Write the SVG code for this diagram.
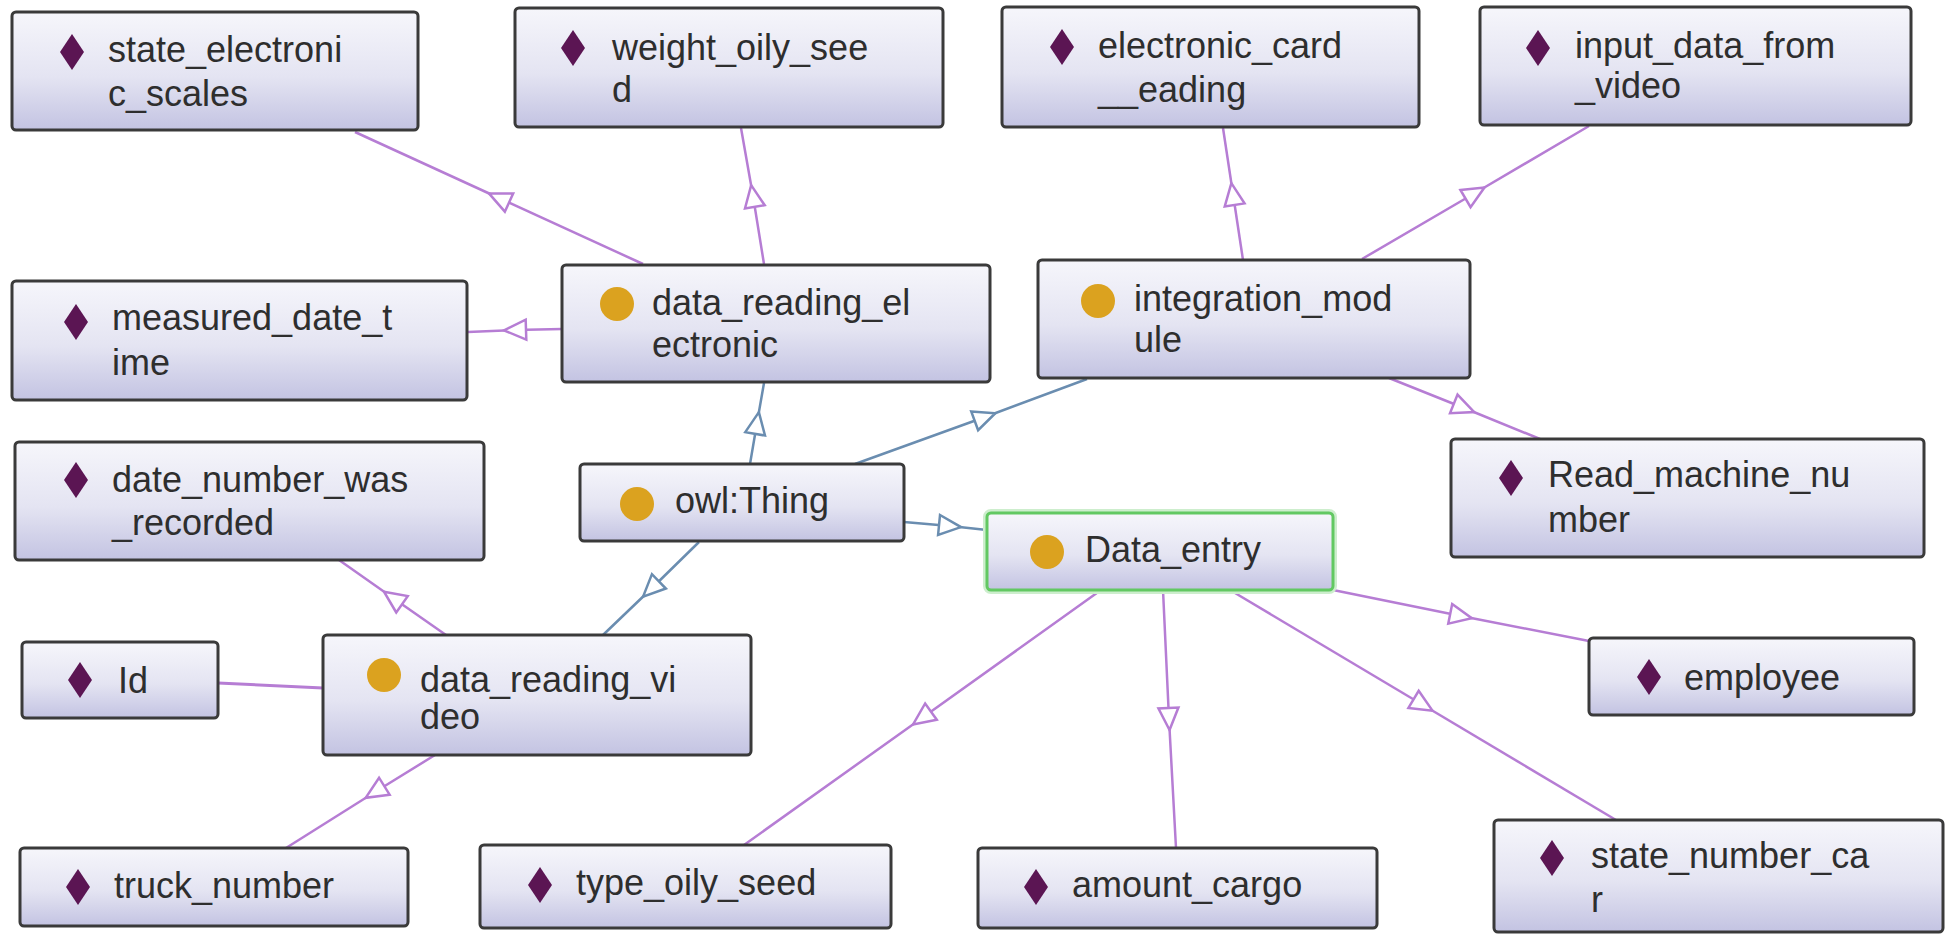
<svg xmlns="http://www.w3.org/2000/svg" width="1948" height="934" viewBox="0 0 1948 934">
<style>
.box{fill:url(#g);stroke:#3a3a3a;stroke-width:3}
.lbl{font-family:"Liberation Sans",Arial,sans-serif;font-size:36px;fill:#2e2e2e}
.dia{fill:#5b1553}
.cls{fill:#dba21f}
.ep{fill:none;stroke:#b67dd4;stroke-width:2.5;marker-mid:url(#aP)}
.eb{fill:none;stroke:#6a8db0;stroke-width:2.5;marker-mid:url(#aB)}
.en{fill:none;stroke:#b67dd4;stroke-width:3}
</style>
<defs>
<linearGradient id="g" x1="0" y1="0" x2="0" y2="1">
<stop offset="0" stop-color="#f6f6fb"/>
<stop offset="0.55" stop-color="#e4e4f2"/>
<stop offset="1" stop-color="#c3c3e2"/>
</linearGradient>
<marker id="aP" viewBox="-15 -15 30 30" markerWidth="30" markerHeight="30" refX="0" refY="0" orient="auto" markerUnits="userSpaceOnUse">
<path d="M-11,-10 L11,0 L-11,10 Z" fill="#fff" stroke="#b67dd4" stroke-width="2.5"/>
</marker>
<marker id="aB" viewBox="-15 -15 30 30" markerWidth="30" markerHeight="30" refX="0" refY="0" orient="auto" markerUnits="userSpaceOnUse">
<path d="M-11,-10 L11,0 L-11,10 Z" fill="#fff" stroke="#6a8db0" stroke-width="2.5"/>
</marker>
</defs>
<rect width="1948" height="934" fill="#fff"/>
<g id="connectors">
<path class="ep" d="M643,264 L499,198 L355,132"/>
<path class="ep" d="M764,264 L753,196 L741,128"/>
<path class="ep" d="M562,329 L515,330 L468,332"/>
<path class="ep" d="M1243,260 L1233,194 L1223,128"/>
<path class="ep" d="M1362,259 L1475,193 L1589,126"/>
<path class="ep" d="M1389,378 L1464,408 L1540,439"/>
<path class="eb" d="M750,464 L757,423 L764,383"/>
<path class="eb" d="M855,464 L985,417 L1087,379"/>
<path class="eb" d="M904,522 L950,526 L987,530"/>
<path class="eb" d="M699,542 L651,589 L603,635"/>
<path class="ep" d="M446,635 L393,598 L339,560"/>
<path class="en" d="M218,683 L323,688"/>
<path class="ep" d="M435,755 L375,792 L286,848"/>
<path class="ep" d="M1101,590 L922,718 L744,845"/>
<path class="ep" d="M1163,590 L1169,719 L1176,848"/>
<path class="ep" d="M1333,590 L1461,616 L1589,641"/>
<path class="ep" d="M1230,590 L1423,705 L1616,820"/>
</g>
<g id="n_state">
<rect class="box" x="12" y="12" width="406" height="118" rx="4"/>
<path class="dia" d="M72,34 L84,52 L72,70 L60,52 Z"/>
<text class="lbl"><tspan x="108" y="62">state_electroni</tspan><tspan x="108" y="106">c_scales</tspan></text>
</g>
<g id="n_weight">
<rect class="box" x="515" y="8" width="428" height="119" rx="4"/>
<path class="dia" d="M573,30 L585,48 L573,66 L561,48 Z"/>
<text class="lbl"><tspan x="612" y="60">weight_oily_see</tspan><tspan x="612" y="102">d</tspan></text>
</g>
<g id="n_card">
<rect class="box" x="1002" y="7" width="417" height="120" rx="4"/>
<path class="dia" d="M1062,29 L1074,47 L1062,65 L1050,47 Z"/>
<text class="lbl"><tspan x="1098" y="58">electronic_card</tspan><tspan x="1098" y="102">__eading</tspan></text>
</g>
<g id="n_input">
<rect class="box" x="1480" y="7" width="431" height="118" rx="4"/>
<path class="dia" d="M1538,30 L1550,48 L1538,66 L1526,48 Z"/>
<text class="lbl"><tspan x="1575" y="58">input_data_from</tspan><tspan x="1575" y="98">_video</tspan></text>
</g>
<g id="n_measured">
<rect class="box" x="12" y="281" width="455" height="119" rx="4"/>
<path class="dia" d="M76,304 L88,322 L76,340 L64,322 Z"/>
<text class="lbl"><tspan x="112" y="330">measured_date_t</tspan><tspan x="112" y="375">ime</tspan></text>
</g>
<g id="n_datenum">
<rect class="box" x="15" y="442" width="469" height="118" rx="4"/>
<path class="dia" d="M76,462 L88,480 L76,498 L64,480 Z"/>
<text class="lbl"><tspan x="112" y="492">date_number_was</tspan><tspan x="112" y="535">_recorded</tspan></text>
</g>
<g id="n_read">
<rect class="box" x="1451" y="439" width="473" height="118" rx="4"/>
<path class="dia" d="M1511,460 L1523,478 L1511,496 L1499,478 Z"/>
<text class="lbl"><tspan x="1548" y="487">Read_machine_nu</tspan><tspan x="1548" y="532">mber</tspan></text>
</g>
<g id="n_id">
<rect class="box" x="22" y="642" width="196" height="76" rx="4"/>
<path class="dia" d="M80,662 L92,680 L80,698 L68,680 Z"/>
<text class="lbl" x="118" y="693">Id</text>
</g>
<g id="n_employee">
<rect class="box" x="1589" y="638" width="325" height="77" rx="4"/>
<path class="dia" d="M1649,659 L1661,677 L1649,695 L1637,677 Z"/>
<text class="lbl" x="1684" y="690">employee</text>
</g>
<g id="n_truck">
<rect class="box" x="20" y="848" width="388" height="78" rx="4"/>
<path class="dia" d="M78,869 L90,887 L78,905 L66,887 Z"/>
<text class="lbl" x="114" y="898">truck_number</text>
</g>
<g id="n_type">
<rect class="box" x="480" y="845" width="411" height="83" rx="4"/>
<path class="dia" d="M540,867 L552,885 L540,903 L528,885 Z"/>
<text class="lbl" x="576" y="895">type_oily_seed</text>
</g>
<g id="n_amount">
<rect class="box" x="978" y="848" width="399" height="80" rx="4"/>
<path class="dia" d="M1036,869 L1048,887 L1036,905 L1024,887 Z"/>
<text class="lbl" x="1072" y="897">amount_cargo</text>
</g>
<g id="n_statecar">
<rect class="box" x="1494" y="820" width="449" height="112" rx="4"/>
<path class="dia" d="M1552,840 L1564,858 L1552,876 L1540,858 Z"/>
<text class="lbl"><tspan x="1591" y="868">state_number_ca</tspan><tspan x="1591" y="912">r</tspan></text>
</g>
<g id="n_dre">
<rect class="box" x="562" y="265" width="428" height="117" rx="4"/>
<circle class="cls" cx="617" cy="304" r="17"/>
<text class="lbl"><tspan x="652" y="315">data_reading_el</tspan><tspan x="652" y="357">ectronic</tspan></text>
</g>
<g id="n_integ">
<rect class="box" x="1038" y="260" width="432" height="118" rx="4"/>
<circle class="cls" cx="1098" cy="301" r="17"/>
<text class="lbl"><tspan x="1134" y="311">integration_mod</tspan><tspan x="1134" y="352">ule</tspan></text>
</g>
<g id="n_thing">
<rect class="box" x="580" y="464" width="324" height="77" rx="4"/>
<circle class="cls" cx="637" cy="504" r="17"/>
<text class="lbl" x="675" y="513">owl:Thing</text>
</g>
<g id="n_entry">
<rect x="987" y="513" width="346" height="77" rx="4" fill="none" stroke="#cdeecd" stroke-width="8"/>
<rect x="987" y="513" width="346" height="77" rx="4" fill="url(#g)" stroke="#62c862" stroke-width="3"/>
<circle class="cls" cx="1047" cy="552" r="17"/>
<text class="lbl" x="1085" y="562">Data_entry</text>
</g>
<g id="n_drv">
<rect class="box" x="323" y="635" width="428" height="120" rx="4"/>
<circle class="cls" cx="384" cy="675" r="17"/>
<text class="lbl"><tspan x="420" y="692">data_reading_vi</tspan><tspan x="420" y="729">deo</tspan></text>
</g>
</svg>
